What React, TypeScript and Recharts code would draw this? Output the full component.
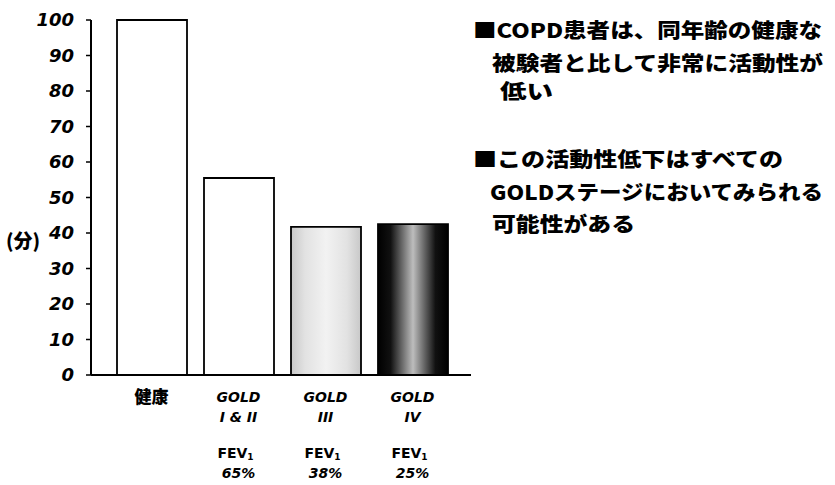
import React from "react";
import { BarChart, Bar, XAxis, YAxis, Cell } from "recharts";

const categories = ["健康", "GOLD|I & II", "GOLD|III", "GOLD|IV"];
const fevLabels = ["", "65%", "38%", "25%"];
const activity = [100, 55.5, 41.7, 42.5];
const yTicks = [0, 10, 20, 30, 40, 50, 60, 70, 80, 90, 100];
const barFills = ["#ffffff", "#ffffff", "url(#stipple)", "url(#darkBand)"];

const notes = [
  ["■COPD患者は、同年齢の健康な", "被験者と比して非常に活動性が", "低い"],
  ["■この活動性低下はすべての", "GOLDステージにおいてみられる", "可能性がある"],
];
// left, center-y, width of each note line
const notePos = [
  [[473, 31, 349], [492, 64, 331], [500, 92, 53]],
  [[473, 160, 310], [490, 193, 333], [492, 225, 143]],
];

const chartData = categories.map((c, i) => ({
  name: c,
  fev: fevLabels[i],
  value: activity[i],
}));

const tickFont = "'DejaVu Sans', 'Liberation Sans', sans-serif";
const jpFont = "'Noto Sans CJK JP', sans-serif";

const XTick = (props: any) => {
  const { x, y, payload, index } = props;
  const lines: string[] = String(payload.value).split("|");
  const fev = fevLabels[index];
  const isJp = lines[0] === "健康";
  return (
    <g transform={`translate(${x},${y})`}>
      {lines.map((l, i) => (
        <text
          key={i}
          x={0}
          y={14 + i * 20}
          dy="0.35em"
          textAnchor="middle"
          fontFamily={isJp ? jpFont : tickFont}
          fontWeight={isJp ? 900 : "bold"}
          fontStyle={isJp ? "normal" : "italic"}
          fontSize={isJp ? 17 : 14}
          fill="#000"
        >
          {l}
        </text>
      ))}
      {fev && (
        <>
          <text x={-3} y={70} dy="0.35em" textAnchor="middle" fontFamily={tickFont} fontWeight="bold" fontSize={14} fill="#000">
            FEV
            <tspan fontSize={9} dy={2}>1</tspan>
          </text>
          <text x={0} y={90} dy="0.35em" textAnchor="middle" fontFamily={tickFont} fontWeight="bold" fontStyle="italic" fontSize={14} fill="#000">
            {fev}
          </text>
        </>
      )}
    </g>
  );
};

const YTick = (props: any) => {
  const { x, y, payload } = props;
  return (
    <text
      x={x - 10}
      y={y}
      dy="0.36em"
      textAnchor="end"
      fontFamily={tickFont}
      fontWeight="bold"
      fontStyle="italic"
      fontSize={18}
      fill="#000"
    >
      {payload.value}
    </text>
  );
};

export default function App() {
  return (
    <div style={{ position: "absolute", left: 0, top: 0, width: 835, height: 485, background: "#fff" }}>
      <BarChart
        width={835}
        height={485}
        data={chartData}
        margin={{ top: 20, right: 364, bottom: 10, left: 0 }}
        barSize={70}
      >
        <defs>
          <linearGradient id="stipple" x1="0" y1="0" x2="1" y2="0">
            <stop offset="0%" stopColor="#c8c8c8" />
            <stop offset="20%" stopColor="#e2e2e2" />
            <stop offset="50%" stopColor="#f2f2f2" />
            <stop offset="80%" stopColor="#e2e2e2" />
            <stop offset="100%" stopColor="#c8c8c8" />
          </linearGradient>
          <linearGradient id="darkBand" x1="0" y1="0" x2="1" y2="0">
            <stop offset="0%" stopColor="#000" />
            <stop offset="18%" stopColor="#111" />
            <stop offset="50%" stopColor="#bdbdbd" />
            <stop offset="82%" stopColor="#111" />
            <stop offset="100%" stopColor="#000" />
          </linearGradient>
        </defs>
        <XAxis
          dataKey="name"
          interval={0}
          height={100}
          padding={{ left: 17, right: 15 }}
          axisLine={{ stroke: "#000", strokeWidth: 2 }}
          tickLine={false}
          tick={<XTick />}
        />
        <YAxis
          width={91}
          domain={[0, 100]}
          ticks={yTicks}
          interval={0}
          axisLine={{ stroke: "#000", strokeWidth: 2 }}
          tickLine={{ stroke: "#000", strokeWidth: 1.5 }}
          tickSize={5}
          tick={<YTick />}
        />
        <Bar dataKey="value" stroke="#000" strokeWidth={1.8} isAnimationActive={false}>
          {chartData.map((_, i) => (
            <Cell key={i} fill={barFills[i]} />
          ))}
        </Bar>
      </BarChart>
      <div
        style={{
          position: "absolute",
          left: 6,
          top: 228,
          fontFamily: jpFont,
          fontWeight: 900,
          fontSize: 19,
          lineHeight: "24px",
        }}
      >
        (分)
      </div>
      <svg width={835} height={485} style={{ position: "absolute", left: 0, top: 0, pointerEvents: "none" }}>
        {notes.map((block, b) =>
          block.map((line, i) => {
            const [lx, cy, w] = notePos[b][i];
            return (
              <text
                key={`${b}-${i}`}
                x={lx}
                y={cy}
                dy="0.36em"
                textLength={w}
                lengthAdjust="spacingAndGlyphs"
                fontFamily={jpFont}
                fontWeight={900}
                fontSize={20}
                fill="#000"
              >
                {line}
              </text>
            );
          })
        )}
      </svg>
    </div>
  );
}
